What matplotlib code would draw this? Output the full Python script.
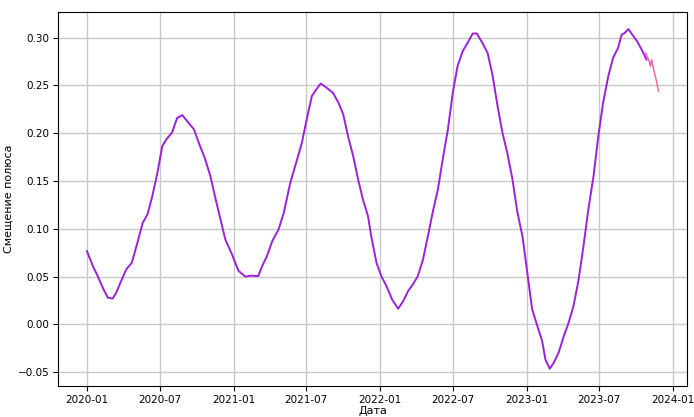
import matplotlib
matplotlib.use("Agg")
import matplotlib.pyplot as plt
import matplotlib.dates as mdates
import pandas as pd

# основной ряд (смещение полюса)
dates = [
    "2020-01-01", "2020-01-16", "2020-01-28", "2020-02-10", "2020-02-22", "2020-03-05",
    "2020-03-14", "2020-03-26", "2020-04-08", "2020-04-22", "2020-05-06", "2020-05-19",
    "2020-05-31", "2020-06-12", "2020-06-25", "2020-07-07", "2020-07-17", "2020-07-31",
    "2020-08-13", "2020-08-26", "2020-09-07", "2020-09-24", "2020-10-06", "2020-10-21",
    "2020-11-04", "2020-11-17", "2020-11-29", "2020-12-11", "2020-12-28", "2021-01-13",
    "2021-01-30", "2021-02-12", "2021-03-03", "2021-03-13", "2021-03-25", "2021-04-07",
    "2021-04-23", "2021-05-06", "2021-05-22", "2021-06-08", "2021-06-20", "2021-07-02",
    "2021-07-15", "2021-07-27", "2021-08-06", "2021-08-21", "2021-09-06", "2021-09-19",
    "2021-10-01", "2021-10-13", "2021-10-26", "2021-11-07", "2021-11-19", "2021-12-02",
    "2021-12-10", "2021-12-23", "2022-01-04", "2022-01-17", "2022-01-31", "2022-02-15",
    "2022-02-27", "2022-03-12", "2022-03-24", "2022-04-05", "2022-04-18", "2022-04-30",
    "2022-05-12", "2022-05-25", "2022-06-06", "2022-06-19", "2022-07-01", "2022-07-13",
    "2022-07-26", "2022-08-07", "2022-08-20", "2022-08-30", "2022-09-13", "2022-09-26",
    "2022-10-08", "2022-10-21", "2022-11-02", "2022-11-14", "2022-11-27", "2022-12-09",
    "2022-12-22", "2023-01-03", "2023-01-15", "2023-01-28", "2023-02-09", "2023-02-17",
    "2023-02-28", "2023-03-10", "2023-03-22", "2023-04-04", "2023-04-16", "2023-04-28",
    "2023-05-11", "2023-05-23", "2023-06-04", "2023-06-17", "2023-06-29", "2023-07-11",
    "2023-07-24", "2023-08-05", "2023-08-17", "2023-08-26", "2023-09-03", "2023-09-12",
    "2023-09-22", "2023-10-04", "2023-10-17", "2023-10-27",
]
values = [
    0.0767, 0.061, 0.0505, 0.038, 0.028, 0.027,
    0.033, 0.045, 0.0575, 0.0645, 0.0855, 0.106,
    0.115, 0.134, 0.159, 0.1865, 0.1935, 0.2005,
    0.216, 0.219, 0.2127, 0.204, 0.19, 0.174,
    0.155, 0.131, 0.11, 0.089, 0.073, 0.056,
    0.050, 0.051, 0.0505, 0.061, 0.0715, 0.087,
    0.0995, 0.117, 0.148, 0.1725, 0.19, 0.2145,
    0.239, 0.2465, 0.252, 0.2475, 0.242, 0.232,
    0.22, 0.197, 0.176, 0.152, 0.131, 0.113,
    0.092, 0.0645, 0.0505, 0.040, 0.026, 0.0164,
    0.024, 0.035, 0.042, 0.0505, 0.068, 0.092,
    0.117, 0.141, 0.1725, 0.204, 0.242, 0.270,
    0.286, 0.2945, 0.3044, 0.3044, 0.2945, 0.284,
    0.2615, 0.228, 0.2005, 0.1795, 0.1517, 0.118,
    0.092, 0.054, 0.016, -0.0017, -0.0175, -0.0366,
    -0.0464, -0.040, -0.0296, -0.0122, 0.0018, 0.019,
    0.047, 0.082, 0.120, 0.155, 0.197, 0.232,
    0.260, 0.279, 0.289, 0.303, 0.305, 0.309,
    0.303, 0.296, 0.286, 0.277,
]

# прогноз
fc_dates = ["2023-10-25", "2023-11-03", "2023-11-06", "2023-11-09",
            "2023-11-14", "2023-11-21", "2023-11-26"]
fc_values = [0.284, 0.2755, 0.270, 0.277, 0.2667, 0.2545, 0.244]

fig = plt.figure(figsize=(6.94, 4.17), dpi=100)
ax = fig.add_subplot(1, 1, 1)
ax.plot(pd.to_datetime(dates), values, color="#9a22d8", lw=1.4)
ax.plot(pd.to_datetime(fc_dates), fc_values, color="#f06aaa", lw=1.1)

ax.xaxis.set_major_locator(mdates.MonthLocator(bymonth=[1, 7]))
ax.xaxis.set_major_formatter(mdates.DateFormatter("%Y-%m"))
ax.tick_params(labelsize=7.5, pad=3)
ax.set_xlabel("Дата", fontsize=8, labelpad=1)
ax.set_ylabel("Смещение полюса", fontsize=8, labelpad=3)
ax.grid(True, color="#c8c8c8", lw=1)

plt.subplots_adjust(left=0.084, right=0.99, top=0.971, bottom=0.075)
fig.savefig("out.png", dpi=100)
